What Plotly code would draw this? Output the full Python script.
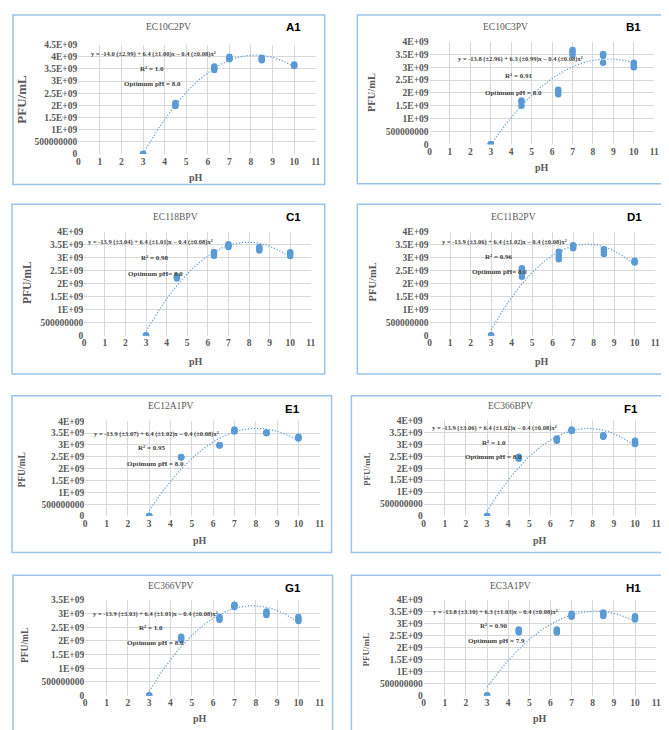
import numpy as np
import plotly.graph_objects as go

W, H = 669, 730

# ---------------- data ----------------
ph_levels = [3, 4.5, 6.3, 7, 8.5, 10]

# PFU/mL (x1e9), three replicates per pH level
ec10c2pv = [[0, 0, 0], [1.97, 2.03, 2.1], [3.45, 3.53, 3.6], [3.9, 3.95, 4.0], [3.85, 3.9, 3.96], [3.62, 3.65, 3.68]]
ec10c3pv = [[0, 0, 0], [1.5, 1.65, 1.7], [1.95, 2.05, 2.12], [3.5, 3.6, 3.67], [3.18, 3.45, 3.52], [3.0, 3.1, 3.18]]
ec118bpv = [[0, 0, 0], [2.2, 2.25, 2.3], [3.08, 3.17, 3.23], [3.42, 3.47, 3.53], [3.28, 3.35, 3.42], [3.07, 3.15, 3.22]]
ec11b2pv = [[0, 0, 0], [2.27, 2.42, 2.6], [2.95, 3.09, 3.24], [3.37, 3.43, 3.49], [3.15, 3.25, 3.33], [2.82, 2.86, 2.89]]
ec12a1pv = [[0, 0, 0], [2.47, 2.48, 2.49], [2.98, 2.99, 3.0], [3.57, 3.62, 3.66], [3.5, 3.52, 3.53], [3.27, 3.3, 3.35]]
ec366bpv = [[0, 0, 0], [2.39, 2.43, 2.48], [3.15, 3.2, 3.24], [3.55, 3.58, 3.62], [3.31, 3.35, 3.38], [3.01, 3.08, 3.15]]
ec366vpv = [[0, 0, 0], [2.04, 2.1, 2.15], [2.77, 2.82, 2.87], [3.24, 3.28, 3.32], [2.95, 3.0, 3.07], [2.73, 2.8, 2.87]]
ec3a1pv = [[0, 0, 0], [2.65, 2.7, 2.76], [2.64, 2.7, 2.76], [3.29, 3.35, 3.42], [3.32, 3.4, 3.47], [3.18, 3.25, 3.31]]

phage_names = ["EC10C2PV", "EC10C3PV", "EC118BPV", "EC11B2PV", "EC12A1PV", "EC366BPV", "EC366VPV", "EC3A1PV"]
panel_tags = ["A1", "B1", "C1", "D1", "E1", "F1", "G1", "H1"]
equations = [
    "y = -14.0 (±2.99) + 6.4 (±1.00)x – 0.4 (±0.08)x²",
    "y = -13.8 (±2.96) + 6.3 (±0.99)x – 0.4 (±0.08)x²",
    "y = -13.9 (±3.04) + 6.4 (±1.01)x – 0.4 (±0.08)x²",
    "y = -13.9 (±3.06) + 6.4 (±1.02)x – 0.4 (±0.08)x²",
    "y = -13.9 (±3.07) + 6.4 (±1.02)x – 0.4 (±0.08)x²",
    "y = -13.9 (±3.06) + 6.4 (±1.02)x – 0.4 (±0.08)x²",
    "y = -13.9 (±3.03) + 6.4 (±1.01)x – 0.4 (±0.08)x²",
    "y = -13.8 (±3.10) + 6.3 (±1.03)x – 0.4 (±0.08)x²",
]
r2_labels = ["R² = 1.0", "R² = 0.91", "R² = 0.98", "R² = 0.96", "R² = 0.95", "R² = 1.0", "R² = 1.0", "R² = 0.90"]
optimum_labels = ["Optimum pH = 8.0", "Optimum pH = 8.0", "Optimum pH= 8.0", "Optimum pH= 8.0",
                  "Optimum pH = 8.0", "Optimum pH = 8.0", "Optimum pH = 8.0", "Optimum pH = 7.9"]
y_max = [4.5, 4.0, 4.0, 4.0, 4.0, 4.0, 3.5, 4.0]
y_tick_vals = [0, 0.5, 1, 1.5, 2, 2.5, 3, 3.5, 4, 4.5]
y_tick_text = ["0", "500000000", "1E+09", "1.5E+09", "2E+09", "2.5E+09", "3E+09", "3.5E+09", "4E+09", "4.5E+09"]
x_tick_vals = list(range(0, 12))

all_series = [ec10c2pv, ec10c3pv, ec118bpv, ec11b2pv, ec12a1pv, ec366bpv, ec366vpv, ec3a1pv]

# ---------------- layout geometry (pixels) ----------------
plot_px = [
    (69, 309, 32, 143), (424, 651, 29, 133),
    (75, 304, 222, 327), (424, 652, 222, 327),
    (76, 313, 414, 510), (418, 653, 413, 510),
    (76, 313, 595, 692), (418, 653, 595, 692),
]
box_px = [
    (3, 318, 2, 174), (351, 666, 2, 173),
    (2, 318, 194, 366), (351, 666, 194, 366),
    (2, 325, 388, 547), (345, 666, 388, 547),
    (3, 326, 570, 728), (345, 666, 570, 728),
]
title_px = [(160, 14), (501, 14), (167, 207), (509, 207), (163, 398), (506, 398), (163, 581), (506, 581)]
tag_px = [(287, 14), (630, 14), (287, 207), (631, 207), (285, 402), (628, 402), (286, 583), (630, 583)]
eq_px = [(145, 42), (516, 47), (142, 232), (500, 232), (148, 427), (490, 421), (147, 609), (491, 607)]
r2_px = [(144, 57), (514, 64), (146, 248), (494, 247), (143, 441), (489, 436), (142, 624), (489, 622)]
opt_px = [(144, 72), (509, 81), (147, 265), (495, 263), (147, 457), (489, 450), (147, 639), (492, 637)]
ytitle_px = [(12, 87), (366, 81), (17, 273), (366, 273), (12, 463), (360, 462), (15, 641), (360, 645)]
ytitle_size = [13, 10.5, 11.5, 10.5, 9.5, 9, 9.5, 9]
xtitle_px = [(188, 167), (538, 157), (188, 353), (538, 353), (192, 535), (536, 535), (192, 715), (536, 715)]


def px(x):
    return x / W


def py(y):
    return 1 - y / H


BLUE = "#5B9BD5"
GREY = "#595959"
SERIF = "Liberation Serif"

fig = go.Figure()
layout_axes = {}
annotations = []
shapes = []

for i, series in enumerate(all_series):
    k = i + 1
    xs, ys = [], []
    for ph, reps in zip(ph_levels, series):
        for v in reps:
            xs.append(ph)
            ys.append(v * 1e9)
    xs = np.array(xs, dtype=float)
    ys = np.array(ys, dtype=float)
    coef = np.polyfit(xs, ys, 2)
    xf = np.linspace(min(ph_levels), max(ph_levels), 120)
    yf = np.polyval(coef, xf)

    xa = "x" if k == 1 else f"x{k}"
    ya = "y" if k == 1 else f"y{k}"
    fig.add_trace(go.Scatter(x=xf, y=yf, mode="lines", xaxis=xa, yaxis=ya,
                             line=dict(color=BLUE, width=1.2, dash="1.2px,1.8px"),
                             showlegend=False, hoverinfo="skip"))
    fig.add_trace(go.Scatter(x=xs, y=ys, mode="markers", xaxis=xa, yaxis=ya,
                             marker=dict(color=BLUE, size=6.5),
                             showlegend=False))

    x0, x1, y0, y1 = plot_px[i]
    nt = int(round(y_max[i] / 0.5)) + 1
    tv = [v * 1e9 for v in y_tick_vals[:nt]]
    tt = y_tick_text[:nt]
    xkey = "xaxis" if k == 1 else f"xaxis{k}"
    ykey = "yaxis" if k == 1 else f"yaxis{k}"
    layout_axes[xkey] = dict(
        domain=[px(x0), px(x1)], range=[0, 11], anchor=ya,
        tickvals=x_tick_vals, ticktext=[str(v) for v in x_tick_vals],
        showgrid=True, gridcolor="#D9D9D9", gridwidth=1, zeroline=False,
        showline=False, ticks="", fixedrange=True, ticklabelstandoff=0,
        tickfont=dict(family=SERIF, size=9.5, color=GREY, weight="bold"),
    )
    layout_axes[ykey] = dict(
        domain=[py(y1), py(y0)], range=[0, y_max[i] * 1e9], anchor=xa,
        tickvals=tv, ticktext=tt,
        showgrid=True, gridcolor="#D9D9D9", gridwidth=1, zeroline=False,
        showline=False, ticks="", fixedrange=True,
        tickfont=dict(family=SERIF, size=9.5, color=GREY, weight="bold"),
    )

    bx0, bx1, by0, by1 = box_px[i]
    shapes.append(dict(type="rect", xref="paper", yref="paper",
                       x0=px(bx0), x1=px(bx1), y0=py(by1), y1=py(by0),
                       line=dict(color="#9DC3E6", width=1.5), fillcolor="rgba(0,0,0,0)"))

    def ann(text, pos, size, color="#404040", family=SERIF, weight="bold", angle=0):
        annotations.append(dict(
            text=text, x=px(pos[0]), y=py(pos[1]), xref="paper", yref="paper",
            xanchor="center", yanchor="middle", showarrow=False, textangle=angle,
            font=dict(family=family, size=size, color=color, weight=weight)))

    ann(phage_names[i], title_px[i], 9.5, color=GREY, weight="normal")
    ann(panel_tags[i], tag_px[i], 11.5, color="#000000", family="Liberation Sans", weight="bold")
    ann(equations[i], eq_px[i], 6.5)
    ann(r2_labels[i], r2_px[i], 7)
    ann(optimum_labels[i], opt_px[i], 7)
    ann("PFU/mL", ytitle_px[i], ytitle_size[i], color=GREY, angle=-90)
    ann("pH", xtitle_px[i], 10, color=GREY)

fig.update_layout(
    width=W, height=H, margin=dict(l=0, r=0, t=0, b=0),
    paper_bgcolor="white", plot_bgcolor="white",
    annotations=annotations, shapes=shapes, showlegend=False,
    **layout_axes,
)

fig.write_html("out.html")
